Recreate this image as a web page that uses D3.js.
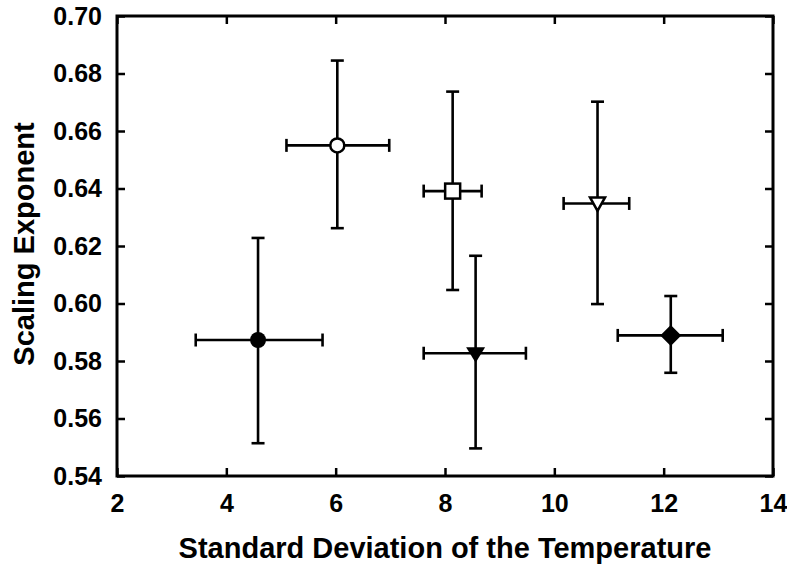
<!DOCTYPE html>
<html>
<head>
<meta charset="utf-8">
<script src="https://cdn.jsdelivr.net/npm/d3@7"></script>
<style>
  html, body { margin: 0; padding: 0; background: #fff; }
  svg { display: block; }
  text { font-family: "Liberation Sans", Arial, sans-serif; font-weight: bold; fill: #000; }
</style>
</head>
<body>
<svg id="chart" width="787" height="569"></svg>
<script>
// ---- data ----
const sdTemp   = [4.58, 6.03, 8.14, 8.56, 10.79, 12.13];
const exponent = [0.5873, 0.655, 0.6391, 0.5827, 0.6348, 0.5889];
const sdLow    = [3.44, 5.10, 7.61, 7.61, 10.17, 11.16];
const sdHigh   = [5.76, 6.98, 8.67, 9.48, 11.37, 13.08];
const expLow   = [0.5514, 0.6262, 0.6047, 0.5496, 0.5998, 0.5759];
const expHigh  = [0.6228, 0.6845, 0.6737, 0.6166, 0.6702, 0.6026];
const markers  = ["circleFilled", "circleOpen", "squareOpen", "triDownFilled", "triDownOpen", "diamondFilled"];
const xTicks   = [2, 4, 6, 8, 10, 12, 14];
const yTicks   = [0.54, 0.56, 0.58, 0.60, 0.62, 0.64, 0.66, 0.68, 0.70];
const xTitle   = "Standard Deviation of the Temperature";
const yTitle   = "Scaling Exponent";

const svg = d3.select("#chart");
const L = 117, R = 773, T = 16, B = 476;
const x = d3.scaleLinear().domain([2, 14]).range([L, R]);
const y = d3.scaleLinear().domain([0.54, 0.70]).range([B, T]);

const tickLen = 8;
const fs = 25;
const tfs = 29;

// axes (inward ticks)
const gB = svg.append("g").attr("transform", `translate(0,${B})`)
  .call(d3.axisBottom(x).tickValues(xTicks).tickFormat(d3.format("d")).tickSizeInner(-tickLen).tickSizeOuter(0).tickPadding(18));
const gT = svg.append("g").attr("transform", `translate(0,${T})`)
  .call(d3.axisTop(x).tickValues(xTicks).tickFormat("").tickSizeInner(-tickLen).tickSizeOuter(0));
const gL = svg.append("g").attr("transform", `translate(${L},0)`)
  .call(d3.axisLeft(y).tickValues(yTicks).tickFormat(d3.format(".2f")).tickSizeInner(-tickLen).tickSizeOuter(0).tickPadding(15));
const gR = svg.append("g").attr("transform", `translate(${R},0)`)
  .call(d3.axisRight(y).tickValues(yTicks).tickFormat("").tickSizeInner(-tickLen).tickSizeOuter(0));

[gB, gT, gL, gR].forEach(g => {
  g.select(".domain").remove();
  g.selectAll(".tick line").attr("stroke", "#000").attr("stroke-width", 2.5);
  g.selectAll(".tick text").attr("font-size", fs).attr("font-family", "Liberation Sans, Arial, sans-serif").attr("font-weight", "bold").attr("fill", "#000");
});

svg.append("rect").attr("x", L).attr("y", T).attr("width", R - L).attr("height", B - T)
  .attr("fill", "none").attr("stroke", "#000").attr("stroke-width", 3);

// error bars
const cap = 6.5;
const eb = svg.append("g").attr("stroke", "#000").attr("stroke-width", 2.6).attr("fill", "none");
sdTemp.forEach((sx, i) => {
  const cx = x(sx), cy = y(exponent[i]);
  const x0 = x(sdLow[i]), x1 = x(sdHigh[i]);
  const y0 = y(expLow[i]), y1 = y(expHigh[i]);
  eb.append("line").attr("x1", x0).attr("x2", x1).attr("y1", cy).attr("y2", cy);
  eb.append("line").attr("x1", x0).attr("x2", x0).attr("y1", cy - cap).attr("y2", cy + cap);
  eb.append("line").attr("x1", x1).attr("x2", x1).attr("y1", cy - cap).attr("y2", cy + cap);
  eb.append("line").attr("x1", cx).attr("x2", cx).attr("y1", y0).attr("y2", y1);
  eb.append("line").attr("x1", cx - cap).attr("x2", cx + cap).attr("y1", y0).attr("y2", y0);
  eb.append("line").attr("x1", cx - cap).attr("x2", cx + cap).attr("y1", y1).attr("y2", y1);
});

// markers
const mg = svg.append("g");
sdTemp.forEach((sx, i) => {
  const cx = x(sx), cy = y(exponent[i]);
  const m = markers[i];
  const g = mg.append("g").attr("transform", `translate(${cx},${cy})`);
  if (m === "circleFilled") {
    g.append("circle").attr("r", 8).attr("fill", "#000");
  } else if (m === "circleOpen") {
    g.append("circle").attr("r", 7).attr("fill", "#fff").attr("stroke", "#000").attr("stroke-width", 2.5);
  } else if (m === "squareOpen") {
    g.append("rect").attr("x", -7.5).attr("y", -7.5).attr("width", 15).attr("height", 15)
      .attr("fill", "#fff").attr("stroke", "#000").attr("stroke-width", 2.5);
  } else if (m === "triDownFilled") {
    g.append("path").attr("d", "M-9.5,-6 L9.5,-6 L0,9.5 Z").attr("fill", "#000");
  } else if (m === "triDownOpen") {
    g.append("path").attr("d", "M-7.5,-6 L7.5,-6 L0,7.5 Z").attr("fill", "#fff").attr("stroke", "#000").attr("stroke-width", 2.5);
  } else if (m === "diamondFilled") {
    g.append("path").attr("d", "M0,-10.5 L10.5,0 L0,10.5 L-10.5,0 Z").attr("fill", "#000");
  }
});

// titles
svg.append("text").attr("x", 445).attr("y", 558).attr("text-anchor", "middle")
  .attr("font-size", tfs).text(xTitle);
svg.append("text").attr("transform", `translate(34,244) rotate(-90)`).attr("text-anchor", "middle")
  .attr("font-size", tfs).text(yTitle);
</script>
</body>
</html>
